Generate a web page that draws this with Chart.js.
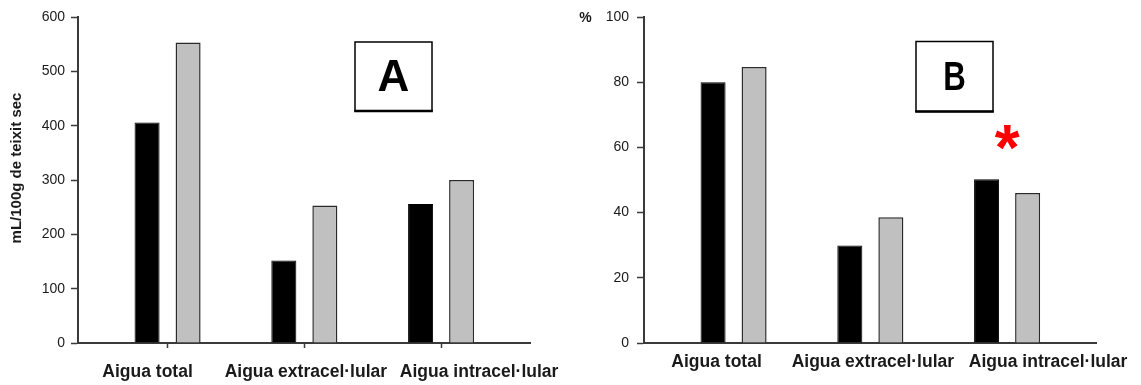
<!DOCTYPE html>
<html>
<head>
<meta charset="utf-8">
<script src="https://cdn.jsdelivr.net/npm/chart.js@4/dist/chart.umd.min.js"></script>
<style>
  html, body { margin: 0; padding: 0; background: #fff; }
  #wrap { position: relative; width: 1141px; height: 385px; overflow: hidden; }
  canvas { position: absolute; top: 0; }
  #chartA { left: 0; }
  #chartB { left: 565px; }
</style>
</head>
<body>
<div id="wrap">
  <canvas id="chartA" width="565" height="385"></canvas>
  <canvas id="chartB" width="576" height="385"></canvas>
</div>
<script>
// Water compartments
const categories = ['Aigua total', 'Aigua extracel·lular', 'Aigua intracel·lular'];

// Panel A: volume, mL/100g of dry tissue
const volumeBlack = [406, 152, 256];
const volumeGray  = [553, 253, 300];
const volumeTicks = [0, 100, 200, 300, 400, 500, 600];

// Panel B: percentage
const percentBlack = [80.0, 29.9, 50.2];
const percentGray  = [84.7, 38.6, 46.0];
const percentTicks = [0, 20, 40, 60, 80, 100];

// Group flagged as significant in panel B
const significantGroup = 2;

const FONT = "'Liberation Sans', Arial, sans-serif";
const AXIS_COLOR = '#3a3a3a';
const TEXT_COLOR = '#1a1a1a';

function points(values) {
  return values.map((v, i) => ({ x: i, y: v }));
}

function barDatasets(black, gray) {
  const common = { categoryPercentage: 0.6, barPercentage: 0.61, borderSkipped: 'start' };
  return [
    Object.assign({ data: points(black), backgroundColor: '#000000', borderColor: '#000000', borderWidth: 1 }, common),
    Object.assign({ data: points(gray), backgroundColor: '#c0c0c0', borderColor: '#2a2a2a', borderWidth: 1.5 }, common)
  ];
}

function xScale(opts) {
  return {
    type: 'linear',
    offset: false,
    min: -0.655,
    max: 2.65,
    afterBuildTicks: s => { s.ticks = categories.map((_, i) => ({ value: i })); },
    afterFit: s => { s.height = 42; },
    ticks: { display: false },
    grid: {
      offset: false,
      drawOnChartArea: false,
      drawTicks: opts.drawTicks,
      tickLength: 5,
      tickColor: AXIS_COLOR,
      tickWidth: 1.5
    },
    border: { color: AXIS_COLOR, width: 2 }
  };
}

function yScale(max, tickValues, width, padding) {
  return {
    min: 0,
    max: max,
    afterBuildTicks: s => { s.ticks = tickValues.map(v => ({ value: v })); },
    afterFit: s => { s.width = width; },
    ticks: { padding: padding, color: TEXT_COLOR, font: { family: FONT, size: 14 } },
    grid: { drawOnChartArea: false, tickLength: 7, tickColor: AXIS_COLOR, tickWidth: 1.5 },
    border: { color: AXIS_COLOR, width: 2 }
  };
}

// Category names drawn under the axis, each nudged sideways
function drawCategoryLabels(chart, shifts, baselineOffset) {
  const ctx = chart.ctx;
  const xs = chart.scales.x;
  ctx.save();
  ctx.fillStyle = TEXT_COLOR;
  ctx.font = 'bold 17.5px ' + FONT;
  ctx.textAlign = 'center';
  ctx.textBaseline = 'alphabetic';
  categories.forEach((name, i) => {
    ctx.fillText(name, xs.getPixelForValue(i) + shifts[i], xs.top + baselineOffset);
  });
  ctx.restore();
}

// Framed panel letter
function drawPanelBox(ctx, x, y, w, h, letter, font, squeeze) {
  ctx.save();
  ctx.fillStyle = '#ffffff';
  ctx.fillRect(x, y, w, h);
  ctx.strokeStyle = '#000';
  ctx.lineWidth = 1.5;
  ctx.strokeRect(x, y, w, h);
  ctx.lineWidth = 2.5;
  ctx.beginPath();
  ctx.moveTo(x - 0.75, y + h);
  ctx.lineTo(x + w + 0.75, y + h);
  ctx.stroke();
  ctx.fillStyle = '#000';
  ctx.font = font;
  ctx.textAlign = 'center';
  ctx.textBaseline = 'middle';
  ctx.translate(x + w / 2, y + h / 2 + 2);
  ctx.scale(squeeze, 1);
  ctx.fillText(letter, 0, 0);
  ctx.restore();
}

const annotationsA = {
  id: 'annotationsA',
  afterDraw(chart) {
    const ctx = chart.ctx;
    const ys = chart.scales.y;
    // rotated axis title
    ctx.save();
    ctx.fillStyle = TEXT_COLOR;
    ctx.font = 'bold 15px ' + FONT;
    ctx.textAlign = 'center';
    ctx.textBaseline = 'middle';
    ctx.translate(17, ys.top + (ys.bottom - ys.top) / 2 - 12);
    ctx.rotate(-Math.PI / 2);
    ctx.fillText('mL/100g de teixit sec', 0, 0);
    ctx.restore();

    drawPanelBox(ctx, 355, 42, 77, 69, 'A', 'bold 44px ' + FONT, 1);
    drawCategoryLabels(chart, [-20, 1.5, 38], 34);
  }
};

const annotationsB = {
  id: 'annotationsB',
  afterDraw(chart) {
    const ctx = chart.ctx;
    const xs = chart.scales.x;
    const ys = chart.scales.y;
    // unit label beside the top tick
    ctx.save();
    ctx.fillStyle = TEXT_COLOR;
    ctx.font = 'bold 14px ' + FONT;
    ctx.textAlign = 'center';
    ctx.textBaseline = 'middle';
    ctx.fillText('%', 20.5, ys.getPixelForValue(100) + 1);
    ctx.restore();

    drawPanelBox(ctx, 351, 41.5, 77, 70, 'B', 'bold 40px ' + FONT, 0.78);

    // significance mark above the flagged group
    ctx.save();
    ctx.fillStyle = '#ff0000';
    ctx.font = 'bold 64px ' + FONT;
    ctx.textAlign = 'center';
    ctx.textBaseline = 'middle';
    ctx.fillText('*', xs.getPixelForValue(significantGroup), ys.getPixelForValue(62.7) + 14);
    ctx.restore();

    drawCategoryLabels(chart, [-17, 2.5, 41], 24);
  }
};

const baseOptions = {
  responsive: false,
  devicePixelRatio: 1,
  animation: false,
  plugins: { legend: { display: false }, tooltip: { enabled: false } }
};

new Chart(document.getElementById('chartA'), {
  type: 'bar',
  data: { datasets: barDatasets(volumeBlack, volumeGray) },
  options: Object.assign({}, baseOptions, {
    layout: { padding: { top: 17, right: 35, left: 0, bottom: 0 } },
    scales: {
      x: xScale({ drawTicks: true }),
      y: yScale(600, volumeTicks, 78, 6)
    }
  }),
  plugins: [annotationsA]
});

new Chart(document.getElementById('chartB'), {
  type: 'bar',
  data: { datasets: barDatasets(percentBlack, percentGray) },
  options: Object.assign({}, baseOptions, {
    layout: { padding: { top: 17, right: 45, left: 0, bottom: 0 } },
    scales: {
      x: xScale({ drawTicks: false }),
      y: yScale(100, percentTicks, 79, 8)
    }
  }),
  plugins: [annotationsB]
});
</script>
</body>
</html>
